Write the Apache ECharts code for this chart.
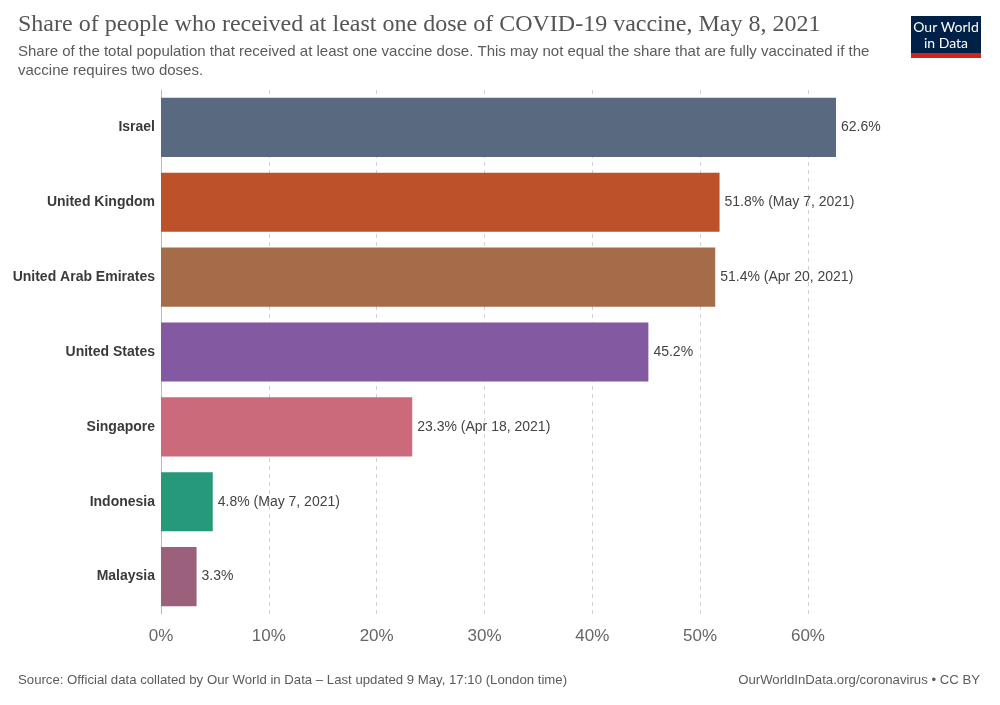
<!DOCTYPE html>
<html><head><meta charset="utf-8">
<script src="https://cdn.jsdelivr.net/npm/echarts@6/dist/echarts.min.js"></script>
<style>html,body{margin:0;padding:0;background:#fff}#c{width:1000px;height:705px}</style>
</head><body><div id="c"></div>
<script>
const countries = ["Israel","United Kingdom","United Arab Emirates","United States","Singapore","Indonesia","Malaysia"];
const values = [62.6, 51.8, 51.4, 45.2, 23.3, 4.8, 3.3];
const dateNotes = ["", " (May 7, 2021)", " (Apr 20, 2021)", "", " (Apr 18, 2021)", " (May 7, 2021)", ""];
const colors = ["#596980","#bd5129","#a66b48","#835aa2","#ca6a7a","#25997a","#9a607c"];
const tickValues = [10,20,30,40,50,60];
const tickLabels = ["0%","10%","20%","30%","40%","50%","60%"];

const chart = echarts.init(document.getElementById('c'));
chart.setOption({
  animation:false,
  backgroundColor:'#fff',
  grid:{left:161,right:164,top:90,bottom:91,containLabel:false},
  xAxis:{type:'value',min:0,max:62.6,interval:10,
    axisLine:{show:false},axisTick:{show:false},
    splitLine:{show:false},
    axisLabel:{color:'#666',fontSize:17,fontFamily:'Liberation Sans, Arial',margin:14,
      showMaxLabel:false,
      formatter:(v)=>{const i=Math.round(v/10);return (Math.abs(v-i*10)<1e-6 && tickLabels[i])?tickLabels[i]:'';}}},
  yAxis:{type:'category',data:countries,inverse:true,
    axisLine:{show:true,lineStyle:{color:'#bbb'}},axisTick:{show:false},
    axisLabel:{color:'#3a3a3a',fontSize:14,fontWeight:'bold',fontFamily:'Liberation Sans, Arial',margin:6}},
  series:[{type:'bar',barCategoryGap:'21%',z:3,
    data:values.map((v,i)=>({value:v,itemStyle:{color:colors[i]}})),
    label:{show:true,position:'right',distance:5,color:'#444',fontSize:14,fontFamily:'Liberation Sans, Arial',
      formatter:(p)=>p.value.toFixed(1)+'%'+dateNotes[p.dataIndex]},
    markLine:{silent:true,symbol:'none',z:1,label:{show:false},
      lineStyle:{type:[4,4],color:'#d0d0d0',width:1},
      data:tickValues.map(v=>({xAxis:v}))}}],
  graphic:[
    {type:'text',left:18,top:13,style:{text:'Share of people who received at least one dose of COVID-19 vaccine, May 8, 2021',fill:'#555',fontSize:24,fontFamily:'Liberation Serif, Georgia, serif'}},
    {type:'text',left:18,top:42,style:{text:'Share of the total population that received at least one vaccine dose. This may not equal the share that are fully vaccinated if the\nvaccine requires two doses.',fill:'#5b5b5b',fontSize:15,lineHeight:19,fontFamily:'Liberation Sans, Arial'}},
    {type:'rect',shape:{x:911,y:16,width:70,height:42},style:{fill:'#002147'}},
    {type:'rect',shape:{x:911,y:53,width:70,height:5},style:{fill:'#ce261e'}},
    {type:'text',x:946,y:19,style:{text:'Our World\nin Data',fill:'#fff',fontSize:14,lineHeight:16,align:'center',fontFamily:'Lato, Liberation Sans'}},
    {type:'text',left:18,top:674,style:{text:'Source: Official data collated by Our World in Data – Last updated 9 May, 17:10 (London time)',fill:'#5b5b5b',fontSize:13.2,fontFamily:'Liberation Sans, Arial'}},
    {type:'text',right:20,top:674,style:{text:'OurWorldInData.org/coronavirus • CC BY',fill:'#5b5b5b',fontSize:13.2,fontFamily:'Liberation Sans, Arial'}}
  ]
});
</script></body></html>
